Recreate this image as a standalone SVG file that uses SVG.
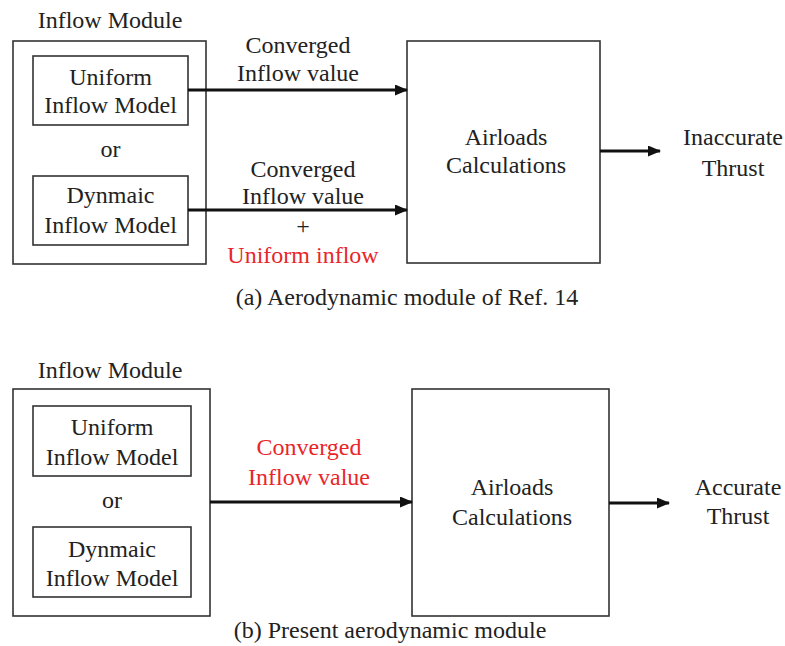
<svg xmlns="http://www.w3.org/2000/svg" width="785" height="646" viewBox="0 0 785 646">
<defs>
<marker id="ah" markerWidth="13" markerHeight="11" refX="12" refY="5.5" orient="auto" markerUnits="userSpaceOnUse">
<path d="M0,0 L13,5.5 L0,11 Z" fill="#111"/>
</marker>
</defs>
<rect width="785" height="646" fill="#fff"/>
<g id="a-inflow-module">
<text x="110" y="28" font-family="Liberation Serif, Times New Roman, serif" font-size="24" text-anchor="middle" fill="#222">Inflow Module</text>
<rect x="13" y="41" width="193" height="223" fill="none" stroke="#333" stroke-width="1.6"/>
</g>
<g id="a-uniform">
<rect x="33" y="56" width="155" height="69" fill="none" stroke="#333" stroke-width="1.6"/>
<text x="110.5" y="85" font-family="Liberation Serif, Times New Roman, serif" font-size="24" text-anchor="middle" fill="#222">Uniform</text>
<text x="110.5" y="113" font-family="Liberation Serif, Times New Roman, serif" font-size="24" text-anchor="middle" fill="#222">Inflow Model</text>
</g>
<text x="110.5" y="157" font-family="Liberation Serif, Times New Roman, serif" font-size="24" text-anchor="middle" fill="#222">or</text>
<g id="a-dynamic">
<rect x="33" y="176" width="155" height="69" fill="none" stroke="#333" stroke-width="1.6"/>
<text x="110.5" y="203" font-family="Liberation Serif, Times New Roman, serif" font-size="24" text-anchor="middle" fill="#222">Dynmaic</text>
<text x="110.5" y="233" font-family="Liberation Serif, Times New Roman, serif" font-size="24" text-anchor="middle" fill="#222">Inflow Model</text>
</g>
<g id="a-airloads">
<rect x="407" y="41" width="193" height="222" fill="none" stroke="#333" stroke-width="1.6"/>
<text x="506" y="145" font-family="Liberation Serif, Times New Roman, serif" font-size="24" text-anchor="middle" fill="#222">Airloads</text>
<text x="506" y="173" font-family="Liberation Serif, Times New Roman, serif" font-size="24" text-anchor="middle" fill="#222">Calculations</text>
</g>
<g id="a-output">
<text x="733" y="145" font-family="Liberation Serif, Times New Roman, serif" font-size="24" text-anchor="middle" fill="#222">Inaccurate</text>
<text x="733" y="176" font-family="Liberation Serif, Times New Roman, serif" font-size="24" text-anchor="middle" fill="#222">Thrust</text>
</g>
<g id="a-labels">
<text x="298" y="53" font-family="Liberation Serif, Times New Roman, serif" font-size="24" text-anchor="middle" fill="#222">Converged</text>
<text x="298" y="81" font-family="Liberation Serif, Times New Roman, serif" font-size="24" text-anchor="middle" fill="#222">Inflow value</text>
<text x="303" y="177" font-family="Liberation Serif, Times New Roman, serif" font-size="24" text-anchor="middle" fill="#222">Converged</text>
<text x="303" y="204" font-family="Liberation Serif, Times New Roman, serif" font-size="24" text-anchor="middle" fill="#222">Inflow value</text>
<text x="303" y="234" font-family="Liberation Serif, Times New Roman, serif" font-size="24" text-anchor="middle" fill="#222">+</text>
<text x="303" y="263" font-family="Liberation Serif, Times New Roman, serif" font-size="24" text-anchor="middle" fill="#e8262a">Uniform inflow</text>
</g>
<text x="407" y="305" font-family="Liberation Serif, Times New Roman, serif" font-size="24" text-anchor="middle" fill="#222">(a) Aerodynamic module of Ref. 14</text>
<g id="b-inflow-module">
<text x="110" y="378" font-family="Liberation Serif, Times New Roman, serif" font-size="24" text-anchor="middle" fill="#222">Inflow Module</text>
<rect x="13" y="389" width="197" height="227" fill="none" stroke="#333" stroke-width="1.6"/>
</g>
<g id="b-uniform">
<rect x="33" y="406" width="158" height="70" fill="none" stroke="#333" stroke-width="1.6"/>
<text x="112" y="435" font-family="Liberation Serif, Times New Roman, serif" font-size="24" text-anchor="middle" fill="#222">Uniform</text>
<text x="112" y="465" font-family="Liberation Serif, Times New Roman, serif" font-size="24" text-anchor="middle" fill="#222">Inflow Model</text>
</g>
<text x="112" y="508" font-family="Liberation Serif, Times New Roman, serif" font-size="24" text-anchor="middle" fill="#222">or</text>
<g id="b-dynamic">
<rect x="33" y="527" width="158" height="70" fill="none" stroke="#333" stroke-width="1.6"/>
<text x="112" y="557" font-family="Liberation Serif, Times New Roman, serif" font-size="24" text-anchor="middle" fill="#222">Dynmaic</text>
<text x="112" y="586" font-family="Liberation Serif, Times New Roman, serif" font-size="24" text-anchor="middle" fill="#222">Inflow Model</text>
</g>
<g id="b-airloads">
<rect x="412" y="389" width="197" height="227" fill="none" stroke="#333" stroke-width="1.6"/>
<text x="512" y="495" font-family="Liberation Serif, Times New Roman, serif" font-size="24" text-anchor="middle" fill="#222">Airloads</text>
<text x="512" y="525" font-family="Liberation Serif, Times New Roman, serif" font-size="24" text-anchor="middle" fill="#222">Calculations</text>
</g>
<g id="b-output">
<text x="738" y="495" font-family="Liberation Serif, Times New Roman, serif" font-size="24" text-anchor="middle" fill="#222">Accurate</text>
<text x="738" y="524" font-family="Liberation Serif, Times New Roman, serif" font-size="24" text-anchor="middle" fill="#222">Thrust</text>
</g>
<g id="b-labels">
<text x="309" y="455" font-family="Liberation Serif, Times New Roman, serif" font-size="24" text-anchor="middle" fill="#e8262a">Converged</text>
<text x="309" y="485" font-family="Liberation Serif, Times New Roman, serif" font-size="24" text-anchor="middle" fill="#e8262a">Inflow value</text>
</g>
<text x="390" y="638" font-family="Liberation Serif, Times New Roman, serif" font-size="24" text-anchor="middle" fill="#222">(b) Present aerodynamic module</text>
<g id="connectors" stroke="#111" stroke-width="3.2" fill="none" marker-end="url(#ah)">
<line x1="188" y1="90" x2="407" y2="90"/>
<line x1="188" y1="210" x2="407" y2="210"/>
<line x1="600" y1="151" x2="660" y2="151"/>
<line x1="210" y1="502" x2="412" y2="502"/>
<line x1="609" y1="503" x2="669" y2="503"/>
</g>
</svg>
